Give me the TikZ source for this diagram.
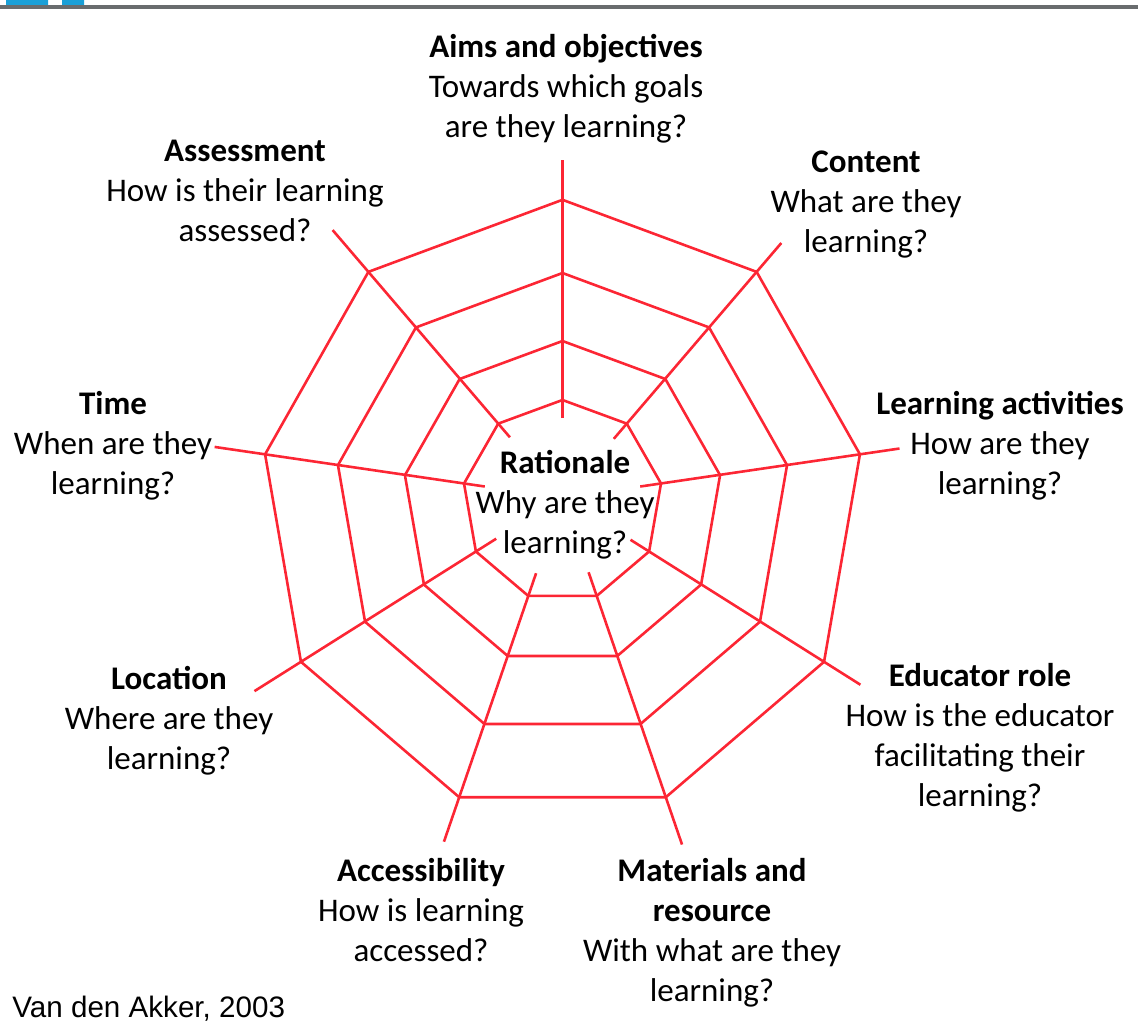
\documentclass[tikz,border=0pt]{standalone}
\usepackage{fontspec}
\setmainfont{Carlito}
\newfontfamily\credfont{Liberation Sans}
\usetikzlibrary{calc}
\definecolor{webred}{RGB}{252,38,52}
\definecolor{barblue}{RGB}{26,160,216}
\definecolor{bargray}{RGB}{105,108,110}
\begin{document}
\begin{tikzpicture}[x=0.5pt,y=-0.5pt,
	web/.style={draw=webred,line width=1.3pt},
	lbl/.style={align=center,anchor=base,inner sep=0pt,font=\fontsize{16.5}{20}\selectfont}]
	\useasboundingbox (0,0) rectangle (1138,1033);
	\def\cx{562.5}
	\fill [barblue] (6,0) rectangle (48,5) (62,0) rectangle (84,5);
	\fill [bargray] (0,5) rectangle (1138,8.5);
	\foreach \rx/\ry/\cy [count=\i] in {302/308/507.8,228/232.5/505.5,160/162.4/503.4,100/101/501}{
		\foreach \k in {0,...,8}
			\coordinate (r\i-\k) at ({\cx+\rx*cos(90+40*\k)},{\cy-\ry*sin(90+40*\k)});
		\draw [web] (r\i-0) \foreach \k in {1,...,8}{--(r\i-\k)} --cycle;
	}
	\foreach \k/\a/\b in {0/9pt/20pt,1/9pt/27.5pt,2/10.5pt/25.5pt,3/12pt/27.5pt,4/12pt/23.5pt,5/12.5pt/25pt,6/11pt/21.5pt,7/10.5pt/20pt,8/10pt/19pt}
		\draw [web] ($(r4-\k)!-\a!(r1-\k)$) -- ($(r1-\k)!-\b!(r4-\k)$);
	\node [lbl] (aims) at (566,137) {\textbf{Aims and objectives}\\Towards which goals\\are they learning?};
	\node [lbl] (assess) at (245,241) {\textbf{Assessment}\\How is their learning\\assessed?};
	\node [lbl] (content) at (866,252) {\textbf{Content}\\What are they\\learning?};
	\node [lbl] (time) at (113,494) {\textbf{Time}\\When are they\\learning?};
	\node [lbl] (activ) at (1000,494) {\textbf{Learning activities}\\How are they\\learning?};
	\node [lbl] (ratio) at (565,553) {\textbf{Rationale}\\Why are they\\learning?};
	\node [lbl] (loc) at (169,769) {\textbf{Location}\\Where are they\\learning?};
	\node [lbl] (educ) at (980,806) {\textbf{Educator role}\\How is the educator\\facilitating their\\learning?};
	\node [lbl] (access) at (421,961) {\textbf{Accessibility}\\How is learning\\accessed?};
	\node [lbl] (mater) at (712,1001) {\textbf{Materials and}\\\textbf{resource}\\With what are they\\learning?};
	\node [anchor=base west,inner sep=0pt,font=\credfont\fontsize{14.8}{17}\selectfont] (cred) at (12,1017) {Van den Akker, 2003};
\end{tikzpicture}
\end{document}
